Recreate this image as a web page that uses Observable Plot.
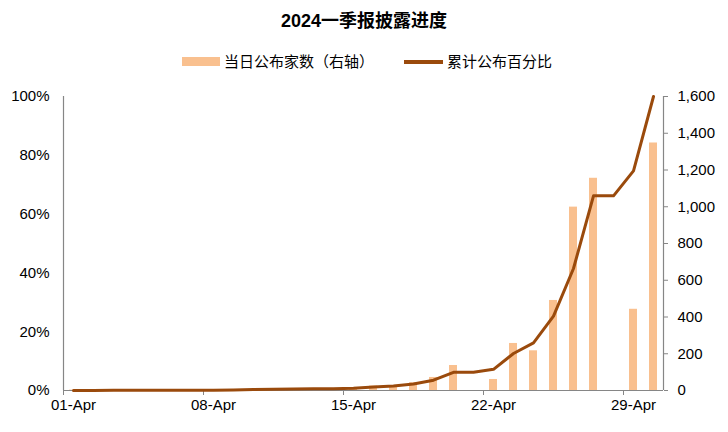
<!DOCTYPE html>
<html>
<head>
<meta charset="utf-8">
<script src="https://cdn.jsdelivr.net/npm/d3@7"></script>
<script src="https://cdn.jsdelivr.net/npm/@observablehq/plot@0.6"></script>
<style>
  body { margin: 0; background: #fff; }
  #wrap { position: relative; width: 728px; height: 432px; font-family: "Liberation Sans", Arial, "Noto Sans CJK SC", sans-serif; color: #000; }
  #title { position: absolute; left: 0; top: 8px; width: 728px; text-align: center; font-weight: bold; font-size: 18px; line-height: 26px; font-family: "Liberation Sans", Arial, "Noto Sans CJK SC", sans-serif; }
  .lg-sw { position: absolute; }
  .lg-tx { position: absolute; font-size: 15px; line-height: 20px; top: 51px; font-family: "Noto Sans CJK SC", sans-serif; white-space: nowrap; }
  #chart { position: absolute; left: 0; top: 0; }
</style>
</head>
<body>
<div id="wrap">
  <div id="title">2024一季报披露进度</div>
  <div class="lg-sw" id="sw1" style="left:182px; top:57px; width:38px; height:9px;"></div>
  <div class="lg-tx" style="left:224px;">当日公布家数（右轴）</div>
  <div class="lg-sw" id="sw2" style="left:404px; top:60px; width:39px; height:3.5px;"></div>
  <div class="lg-tx" style="left:447px;">累计公布百分比</div>
  <div id="chart"></div>
</div>
<script>
const days = ["01","02","03","04","05","06","07","08","09","10","11","12","13","14","15",
              "16","17","18","19","20","21","22","23","24","25","26","27","28","29","30"];
const dailyCount = [2, 1, 1, 0, 0, 0, 0, 3, 5, 5, 8, 10, 3, 0, 10,
                    24, 22, 42, 71, 136, 0, 60, 256, 216, 490, 998, 1155, 0, 442, 1347];
const cumPct = [0, 0, 0.05, 0.05, 0.05, 0.05, 0.05, 0.1, 0.2, 0.3, 0.4, 0.5, 0.6, 0.6, 0.8,
                1.2, 1.5, 2.2, 3.5, 6.2, 6.2, 7.2, 12.6, 16.2, 25.3, 41.5, 66.2, 66.2, 74.7, 100];
const tickDays = ["01","08","15","22","29"];
const pctTicks = [0, 20, 40, 60, 80, 100];
const countTicks = [0, 200, 400, 600, 800, 1000, 1200, 1400, 1600];

const barColor = "#f9c08f";
const lineColor = "#9a4a0c";
const axisColor = "#868686";
document.getElementById("sw1").style.background = barColor;
document.getElementById("sw2").style.background = lineColor;

const data = days.map((d, i) => ({day: d, count: dailyCount[i], pct: cumPct[i]}));
const maxCount = 1600;
const toY = p => p / 100 * maxCount;
const half = 600 / days.length / 2;

const chart = Plot.plot({
  width: 728,
  height: 432,
  marginLeft: 63,
  marginRight: 65,
  marginTop: 96,
  marginBottom: 42,
  style: {fontFamily: "'Liberation Sans', Arial, sans-serif", fontSize: "15px", color: "#000", background: "transparent"},
  x: {type: "band", domain: days, padding: 0, axis: null},
  y: {domain: [0, maxCount], axis: null},
  marks: [
    Plot.barY(data, {x: "day", y: "count", fill: barColor, insetLeft: 6, insetRight: 6}),
    Plot.ruleY([0], {stroke: axisColor, strokeWidth: 1.2}),
    Plot.ruleX([days[0]], {dx: -half, stroke: axisColor, strokeWidth: 1.2}),
    Plot.ruleX([days[days.length - 1]], {dx: half, stroke: axisColor, strokeWidth: 1.2}),
    Plot.axisX(tickDays, {tickSize: 5, tickFormat: () => "", dx: -half, stroke: axisColor, label: null}),
    Plot.axisX(tickDays, {tickSize: 0, tickPadding: 9, tickFormat: d => d + "-Apr", label: null}),
    Plot.axisY(pctTicks.map(toY), {anchor: "left", tickSize: 0, tickPadding: 14, tickFormat: d => Math.round(d / maxCount * 100) + "%", label: null}),
    Plot.axisY(countTicks, {anchor: "right", tickSize: 4, tickFormat: () => "", stroke: axisColor, label: null}),
    Plot.axisY(countTicks, {anchor: "right", tickSize: 0, tickPadding: 14, tickFormat: d3.format(","), label: null}),
    Plot.line(data, {x: "day", y: d => toY(d.pct), stroke: lineColor, strokeWidth: 3, strokeLinejoin: "round"})
  ]
});
document.getElementById("chart").appendChild(chart);
</script>
</body>
</html>
